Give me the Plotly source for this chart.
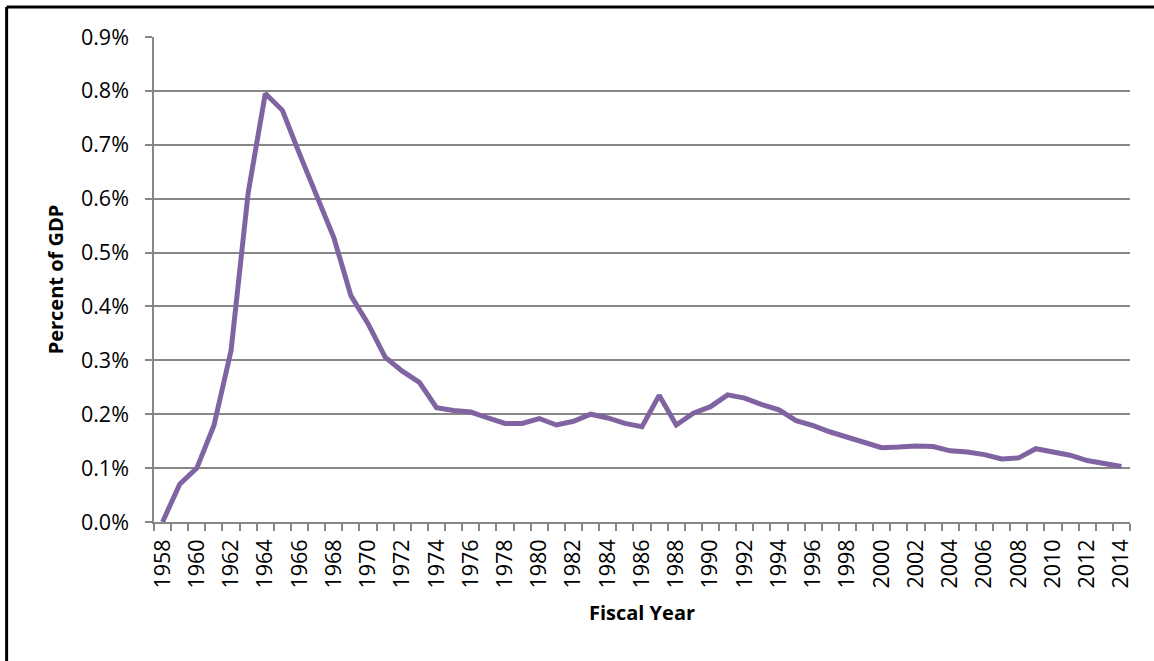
import plotly.graph_objects as go

years = list(range(1958, 2015))
pct_gdp = [
    0.000, 0.070, 0.100, 0.179, 0.318, 0.611, 0.795, 0.764, 0.683, 0.608,
    0.528, 0.420, 0.368, 0.306, 0.280, 0.259, 0.212, 0.207, 0.204, 0.193,
    0.183, 0.183, 0.192, 0.180, 0.187, 0.200, 0.193, 0.183, 0.177, 0.235,
    0.180, 0.202, 0.214, 0.236, 0.230, 0.218, 0.208, 0.188, 0.179, 0.167,
    0.157, 0.148, 0.138, 0.139, 0.141, 0.140, 0.132, 0.130, 0.125, 0.117,
    0.119, 0.136, 0.131, 0.124, 0.114, 0.108, 0.103,
]
x_tick_labels = [str(y) for y in range(1958, 2015, 2)]
y_tick_vals = [0.0, 0.1, 0.2, 0.3, 0.4, 0.5, 0.6, 0.7, 0.8, 0.9]

FONT = "Open Sans"
GRID = "#878787"
TICK_SIZE = 21.5

fig = go.Figure()
fig.add_trace(go.Scatter(
    x=years, y=pct_gdp, mode="lines",
    line=dict(color="#8064A2", width=5),
    hoverinfo="x+y", showlegend=False,
))

fig.update_layout(
    width=1154, height=661,
    margin=dict(l=154, r=24, t=37, b=139),
    paper_bgcolor="white", plot_bgcolor="white",
    font=dict(family=FONT, size=20, color="black"),
    xaxis=dict(
        range=[1957.5, 2014.5],
        tickmode="array",
        tickvals=[int(t) for t in x_tick_labels],
        ticktext=x_tick_labels,
        tickangle=-90,
        ticks="",
        showgrid=False,
        showline=True, linecolor=GRID, linewidth=1.5,
        zeroline=False,
        ticklabelstandoff=7,
        minor=dict(tick0=1957.5, dtick=1, ticks="outside", ticklen=7,
                   tickcolor=GRID, tickwidth=1.5, showgrid=False),
        title=dict(text="<b>Fiscal Year</b>", font=dict(family=FONT, size=20),
                   standoff=18),
        tickfont=dict(family=FONT, size=TICK_SIZE),
    ),
    yaxis=dict(
        range=[0, 0.9],
        tickmode="array",
        tickvals=y_tick_vals,
        ticktext=[f"{v:.1f}%" for v in y_tick_vals],
        ticks="outside", ticklen=7, tickcolor=GRID, tickwidth=1.5,
        showgrid=True, gridcolor=GRID, gridwidth=1.5,
        showline=True, linecolor=GRID, linewidth=1.5,
        zeroline=False,
        ticklabelstandoff=12,
        title=dict(text="<b>Percent of GDP</b>", font=dict(family=FONT, size=20),
                   standoff=12),
        tickfont=dict(family=FONT, size=TICK_SIZE),
    ),
)

# chart frame (left and top edges visible)
fig.add_shape(type="line", xref="paper", yref="paper",
              x0=-0.151, x1=1.05, y0=1.062, y1=1.062,
              line=dict(color="black", width=3))
fig.add_shape(type="line", xref="paper", yref="paper",
              x0=-0.151, x1=-0.151, y0=1.062, y1=-0.32,
              line=dict(color="black", width=3))

fig.write_html("out.html",
               config={"displayModeBar": False},
               post_script="document.body.style.margin='0';document.body.style.overflow='hidden';")
